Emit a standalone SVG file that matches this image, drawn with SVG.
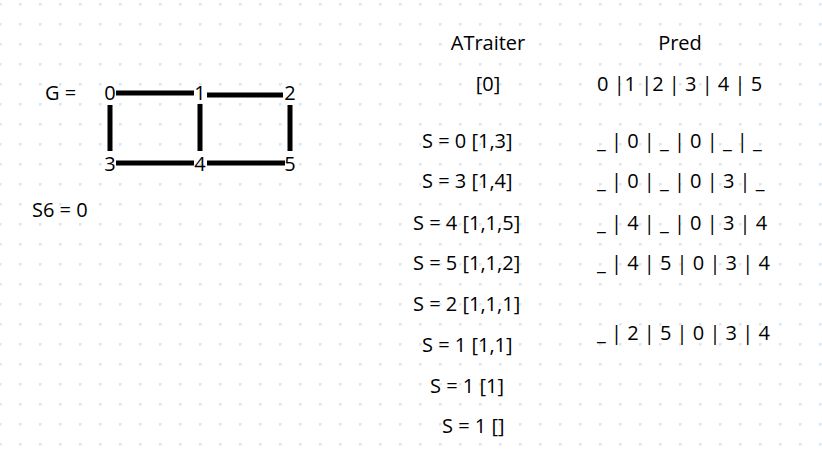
<svg xmlns="http://www.w3.org/2000/svg" width="822" height="457" viewBox="0 0 822 457">
<defs>
<pattern id="dots" x="0" y="4" width="20" height="20" patternUnits="userSpaceOnUse">
<rect x="-1" y="-0.5" width="3" height="1" fill="#d3dce8"/>
<rect x="-0.5" y="-1" width="1" height="3" fill="#d3dce8"/>
<rect x="19" y="-0.5" width="3" height="1" fill="#d3dce8"/>
<rect x="19.5" y="-1" width="1" height="3" fill="#d3dce8"/>
<rect x="-1" y="19.5" width="3" height="1" fill="#d3dce8"/>
<rect x="-0.5" y="19" width="1" height="3" fill="#d3dce8"/>
<rect x="19" y="19.5" width="3" height="1" fill="#d3dce8"/>
<rect x="19.5" y="19" width="1" height="3" fill="#d3dce8"/>
</pattern>
</defs>
<style>
text{font-family:"Open Sans","Noto Sans","DejaVu Sans",sans-serif;font-size:20px;fill:#000;}
.m{text-anchor:middle;}
.edge{stroke:#000;stroke-width:5;fill:none;}
</style>
<rect width="822" height="457" fill="#ffffff"/>
<rect width="822" height="457" fill="url(#dots)"/>
<g id="connectors">
<line class="edge" x1="116" y1="93" x2="194" y2="93"/>
<line class="edge" x1="207" y1="95" x2="283" y2="95"/>
<line class="edge" x1="110" y1="105" x2="110" y2="151"/>
<line class="edge" x1="200" y1="104" x2="200" y2="151"/>
<line class="edge" x1="290" y1="105" x2="290" y2="151"/>
<line class="edge" x1="116" y1="163" x2="194" y2="163"/>
<line class="edge" x1="207" y1="163" x2="285" y2="163"/>
</g>
<g id="label-G"><text x="45" y="100">G =</text></g>
<g id="node-0"><text class="m" x="110" y="100">0</text></g>
<g id="node-1"><text class="m" x="200" y="100">1</text></g>
<g id="node-2"><text class="m" x="290" y="100">2</text></g>
<g id="node-3"><text class="m" x="110" y="171">3</text></g>
<g id="node-4"><text class="m" x="200" y="171">4</text></g>
<g id="node-5"><text class="m" x="290" y="171">5</text></g>
<g id="label-S6"><text x="32" y="217">S6 = 0</text></g>
<g id="atraiter">
<text class="m" x="488" y="50">ATraiter</text>
<text class="m" x="488" y="91">[0]</text>
<text x="422" y="148">S = 0 [1,3]</text>
<text x="422" y="188">S = 3 [1,4]</text>
<text x="413" y="230">S = 4 [1,1,5]</text>
<text x="413" y="270">S = 5 [1,1,2]</text>
<text x="413" y="311">S = 2 [1,1,1]</text>
<text x="422" y="352">S = 1 [1,1]</text>
<text x="430" y="393">S = 1 [1]</text>
<text x="442" y="433">S = 1 []</text>
</g>
<g id="pred">
<text class="m" x="680" y="50">Pred</text>
<text x="597" y="91">0 |1 |2 | 3 | 4 | 5</text>
<text x="597" y="148">_ | 0 | _ | 0 | _ | _</text>
<text x="597" y="188">_ | 0 | _ | 0 | 3 | _</text>
<text x="597" y="230">_ | 4 | _ | 0 | 3 | 4</text>
<text x="597" y="270">_ | 4 | 5 | 0 | 3 | 4</text>
<text x="597" y="340">_ | 2 | 5 | 0 | 3 | 4</text>
</g>
</svg>
